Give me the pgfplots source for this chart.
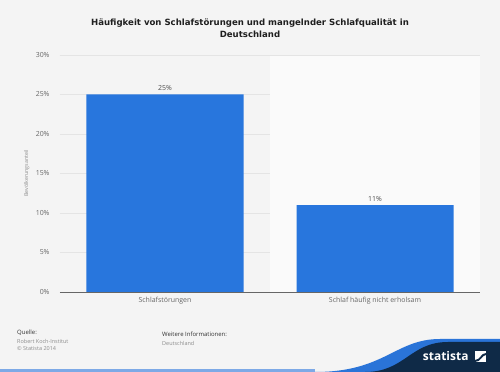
\documentclass[border=0pt]{standalone}
\usepackage{pgfplots}
\pgfplotsset{compat=1.18}
\usepackage{fontspec}
\setmainfont{Open Sans}
\newfontfamily\titlefont{DejaVu Sans}
\definecolor{bg}{HTML}{F4F4F4}
\definecolor{band}{HTML}{FAFAFA}
\definecolor{barblue}{HTML}{2876DD}
\definecolor{navy}{HTML}{0F2A47}
\definecolor{wave}{HTML}{2A74D8}
\definecolor{strip}{HTML}{7DA9E6}
\definecolor{tickc}{HTML}{666666}
\definecolor{gridc}{HTML}{E4E4E4}
\begin{document}
\begin{tikzpicture}
\useasboundingbox (0bp,0bp) rectangle (500bp,372bp);
\fill[bg] (0bp,0bp) rectangle (500bp,372bp);
% title
\node[font=\titlefont\bfseries\fontsize{8.6}{12}\selectfont, text=black!88, align=center] at (250bp,344bp) {Häufigkeit von Schlafstörungen und mangelnder Schlafqualität in\\Deutschland};
\begin{axis}[
  at={(60bp,80bp)}, anchor=south west,
  scale only axis, width=420bp, height=237bp,
  xmin=-0.5, xmax=1.5, ymin=0, ymax=30,
  axis line style={draw=none},
  xtick style={draw=none}, ytick style={draw=none},
  xtick={0,1}, xticklabels={Schlafstörungen,Schlaf häufig nicht erholsam},
  ytick={0,5,...,30},
  yticklabel={\pgfmathprintnumber{\tick}\%},
  /pgf/number format/assume math mode=true,
  ymajorgrids, grid style={draw=gridc, line width=0.6pt},
  major tick length=0pt,
  tick label style={font=\fontsize{7}{8}\selectfont, text=tickc},
  xticklabel style={yshift=-2bp},
  yticklabel style={xshift=-7bp},
  ylabel={Bevölkerungsanteil},
  ylabel style={font=\fontsize{5.3}{6}\selectfont, text=black!45, at={(axis description cs:-0.079,0.5)}, anchor=center},
  ybar, bar width=157bp,
  nodes near coords={\pgfmathprintnumber{\pgfplotspointmeta}\%},
  nodes near coords style={font=\fontsize{7}{8}\selectfont, text=black!70, /pgf/number format/assume math mode=true},
  clip=false,
]
\fill[band] (axis cs:0.5,0) rectangle (axis cs:1.5,30);
\draw[gridc, line width=0.6pt] (axis cs:-0.5,30) -- (axis cs:1.5,30);
\addplot[fill=barblue, draw=none] coordinates {(0,25) (1,11)};
\draw[black!60, line width=0.8pt] (axis cs:-0.5,0) -- (axis cs:1.5,0);
\end{axis}
% footer
\begin{scope}[every node/.style={anchor=west, inner sep=0pt}]
\node[font=\fontsize{6}{7}\selectfont, text=black!80] at (17bp,39bp) {Quelle:};
\node[font=\fontsize{5.5}{7}\selectfont, text=black!45] at (17bp,31bp) {Robert Koch-Institut};
\node[font=\fontsize{5.5}{7}\selectfont, text=black!45] at (17bp,23bp) {© Statista 2014};
\node[font=\fontsize{6}{7}\selectfont, text=black!80] at (162bp,38bp) {Weitere Informationen:};
\node[font=\fontsize{5.5}{7}\selectfont, text=black!45] at (162bp,29bp) {Deutschland};
\end{scope}
% logo wave
\fill[wave] (315bp,0bp) .. controls (385bp,0bp) and (395bp,33bp) .. (440bp,33bp) -- (500bp,33bp) -- (500bp,0bp) -- cycle;
\fill[navy] (365bp,0bp) .. controls (405bp,0bp) and (410bp,30bp) .. (448bp,30bp) -- (500bp,30bp) -- (500bp,0bp) -- cycle;
\fill[strip] (0bp,0bp) rectangle (315bp,2.5bp);
\node[anchor=east, font=\bfseries\fontsize{12}{14}\selectfont, text=white] at (472bp,16bp) {statista};
\fill[white] (475bp,10bp) rectangle (486bp,21bp);
\fill[navy] (475bp,12bp) .. controls (480bp,12bp) and (481bp,19bp) .. (486bp,19bp) -- (486bp,17bp) .. controls (482bp,17bp) and (481bp,10bp) .. (475bp,10bp) -- cycle;
\end{tikzpicture}
\end{document}
